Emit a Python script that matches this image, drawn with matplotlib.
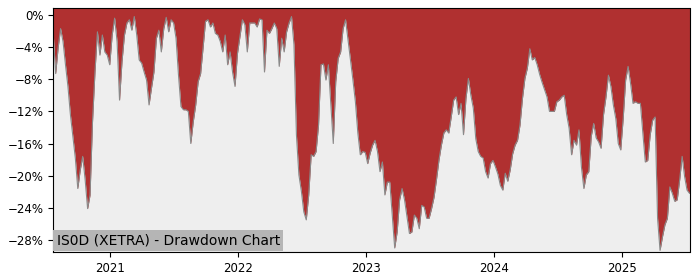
import pandas as pd
import matplotlib
matplotlib.use("Agg")
import matplotlib.pyplot as plt
import matplotlib.ticker as mtick
import matplotlib.dates as mdates

# weekly drawdown (%)
start_date = "2020-07-24"
drawdown = [
    -2.3, -7.3, -4.1, -1.7, -3.3, -6.2, -8.9, -12.4, -15.1, -17.8,
    -21.6, -19.3, -17.6, -20.5, -24.1, -22.4, -13.3, -7.1, -2.1, -5.0,
    -2.5, -4.6, -5.0, -6.2, -2.5, -0.4, -3.3, -10.6, -5.8, -2.5,
    -1.0, -0.6, -1.9, -0.2, -2.5, -5.6, -6.0, -7.1, -8.1, -11.2,
    -9.1, -7.1, -2.9, -1.9, -4.6, -1.7, -0.3, -2.1, -0.6, -1.0,
    -2.9, -7.5, -11.4, -11.8, -11.8, -12.0, -16.0, -13.3, -11.2, -8.3,
    -7.3, -4.1, -0.8, -0.6, -1.5, -1.0, -2.3, -2.5, -3.3, -4.6,
    -2.5, -6.2, -4.6, -7.1, -8.9, -4.8, -2.7, -0.6, -1.2, -4.6,
    -1.0, -1.0, -1.0, -1.5, -0.5, -0.6, -7.1, -1.9, -2.3, -1.7,
    -1.0, -1.7, -6.4, -2.9, -4.6, -2.1, -1.0, -0.2, -3.7, -14.9,
    -19.9, -21.9, -24.5, -25.5, -22.4, -17.4, -17.6, -17.0, -13.7, -6.2,
    -6.1, -8.1, -6.2, -11.2, -16.0, -8.3, -5.4, -4.6, -1.7, -0.6,
    -3.1, -5.6, -8.1, -10.8, -14.7, -17.4, -17.0, -17.1, -18.5, -17.2,
    -16.2, -15.6, -17.0, -19.5, -18.3, -22.4, -20.8, -20.8, -24.9, -29.0,
    -27.0, -23.0, -21.6, -23.0, -25.1, -27.2, -27.0, -24.9, -25.3, -26.6,
    -23.7, -23.9, -25.3, -25.3, -24.1, -22.7, -20.5, -18.1, -16.2, -14.7,
    -14.3, -14.7, -12.7, -10.6, -10.2, -12.4, -11.0, -14.9, -10.4, -7.9,
    -10.0, -11.6, -15.4, -17.0, -17.6, -17.8, -19.5, -20.3, -18.5, -18.1,
    -18.9, -19.8, -21.2, -21.8, -19.7, -20.7, -19.3, -17.3, -16.2, -15.6,
    -13.7, -10.4, -7.9, -6.6, -4.2, -5.6, -5.3, -6.2, -7.4, -8.4,
    -9.3, -10.2, -12.0, -12.0, -12.0, -10.8, -10.6, -10.2, -10.0, -12.4,
    -14.1, -17.4, -15.6, -16.2, -14.3, -18.9, -21.6, -19.9, -19.5, -15.1,
    -13.5, -15.3, -15.8, -16.6, -12.4, -10.2, -7.5, -8.9, -11.2, -12.9,
    -16.0, -16.8, -12.9, -8.1, -6.4, -8.5, -11.0, -10.8, -11.0, -11.0,
    -14.7, -18.3, -18.1, -14.9, -13.1, -12.7, -25.3, -29.3, -27.6, -26.1,
    -25.3, -21.4, -22.2, -23.2, -23.0, -20.5, -17.6, -20.1, -21.8, -22.2,
]
dates = pd.date_range(start_date, periods=len(drawdown), freq="7D")
label = "IS0D (XETRA) - Drawdown Chart"

y_top = 0.9
y_bottom = -29.5

fig = plt.figure(figsize=(7, 2.8), dpi=100)
ax = fig.add_axes([0.076, 0.1, 0.909, 0.8725])
ax.set_facecolor("#eeeeee")

# red area runs from the drawdown line up to the top of the axes
ax.fill_between(dates, drawdown, y_top, color="#b03030", linewidth=0)
ax.plot(dates, drawdown, color="#8a8a8a", linewidth=0.8)

ax.set_xlim(dates[0], dates[-1])
ax.set_ylim(y_bottom, y_top)
ax.set_yticks(range(0, -29, -4))
ax.yaxis.set_major_formatter(mtick.PercentFormatter(100, decimals=0))
ax.xaxis.set_major_locator(mdates.YearLocator())
ax.xaxis.set_major_formatter(mdates.DateFormatter("%Y"))
ax.tick_params(labelsize=8.5)

ax.annotate(label, xy=(0, 0), xycoords="axes fraction",
            xytext=(2.5, 3), textcoords="offset points",
            ha="left", va="bottom", fontsize=10,
            bbox=dict(boxstyle="square,pad=0.25", fc="#b5b5b5", ec="none"))

fig.savefig("out.png", dpi=100)
